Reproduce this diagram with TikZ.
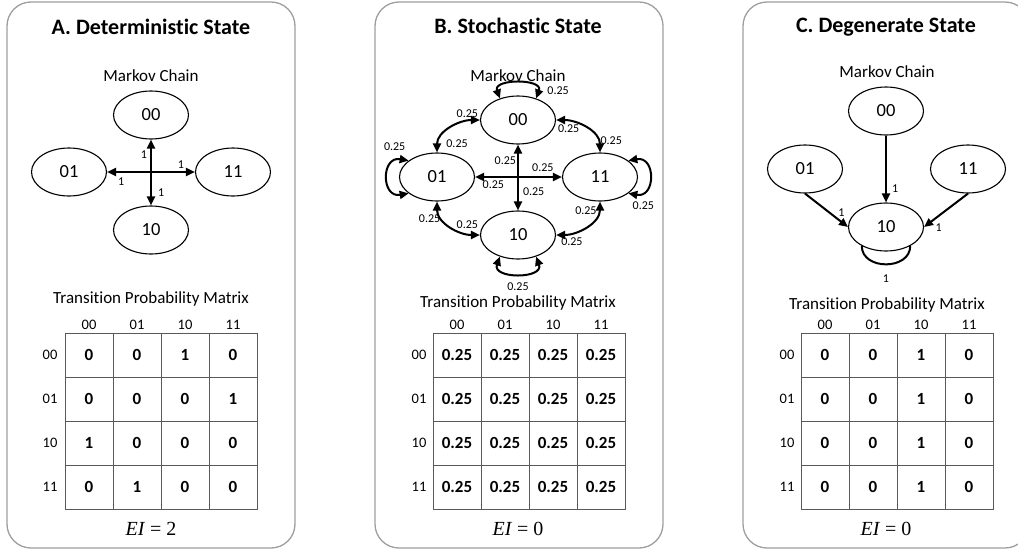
\documentclass[tikz,border=0pt]{standalone}
\usepackage{fontspec}
\setmainfont{Carlito}[Ligatures=NoCommon]
\newfontfamily\eqfont{Liberation Serif}
\usetikzlibrary{shapes.geometric,arrows.meta}

\tikzset{
  panel/.style={draw=black!38, line width=1.3pt, rounded corners=24pt},
  title/.style={font=\bfseries\fontsize{22}{24}\selectfont},
  sub/.style={font=\fontsize{17}{19}\selectfont, inner sep=0pt},
  state/.style={ellipse, draw, line width=1.1pt, minimum width=75pt, minimum height=48pt, inner sep=0pt, font=\fontsize{18.5}{20}\selectfont},
  lbl/.style={font=\fontsize{12}{12}\selectfont, inner sep=1pt},
  arr/.style={line width=2pt, -{Triangle[length=9pt,width=8pt]}},
  dbl/.style={line width=2pt, {Triangle[length=9pt,width=8pt]}-{Triangle[length=9pt,width=8pt]}},
  hdr/.style={font=\fontsize{14.5}{16}\selectfont, inner sep=0pt},
  cell/.style={draw=black!65, line width=0.9pt, minimum width=48pt, minimum height=44pt, inner sep=0pt, font=\bfseries\fontsize{17}{19}\selectfont},
  eq/.style={font=\eqfont\fontsize{20}{22}\selectfont},
}

\begin{document}
\begin{tikzpicture}[x=1pt,y=1pt]
\useasboundingbox (0,0) rectangle (1018,-552);
\clip (0,0) rectangle (1018,-552);

% A. deterministic
\draw[panel] (7,-2) rectangle (295,-548);
\node[title] (atitle) at (151,-27) {A. Deterministic State};
\node[sub] (amc) at (151,-76) {Markov Chain};
\node[state] (a00) at (151,-115) {00};
\node[state] (a01) at (69,-172) {01};
\node[state] (a11) at (233,-172) {11};
\node[state] (a10) at (151,-230) {10};
\draw[dbl] (a00) -- node[lbl,pos=0.23,left=2pt]{1} node[lbl,pos=0.81,right=5pt]{1} (a10);
\draw[dbl] (a01) -- node[lbl,pos=0.84,above=2pt]{1} node[lbl,pos=0.16,below=4pt]{1} (a11);
\node[sub] (atpm) at (151,-298.5) {Transition Probability Matrix};
\foreach \h [count=\j from 0] in {00,01,10,11} {
  \node[hdr] (ac\j) at (89+48*\j,-325) {\h};
  \node[hdr] (ar\j) at (50,-355-44*\j) {\h};
}
\foreach \row [count=\i from 0] in {{0,0,1,0},{0,0,0,1},{1,0,0,0},{0,1,0,0}} {
  \foreach \v [count=\j from 0] in \row {
    \node[cell] (am\i\j) at (89+48*\j,-355-44*\i) {\v};
  }
}
\node[eq] (aei) at (151,-529) {\textit{EI} = 2};

% B. stochastic
\draw[panel] (375,-2) rectangle (663,-548);
\node[title] (btitle) at (518,-26) {B. Stochastic State};
\node[sub] (bmc) at (518,-76) {Markov Chain};
\node[state] (b00) at (518,-120) {00};
\node[state] (b01) at (437,-177) {01};
\node[state] (b11) at (600,-177) {11};
\node[state] (b10) at (518,-235) {10};
\draw[dbl] (b00) -- node[lbl,pos=0.25,left]{0.25} node[lbl,pos=0.72,right=3pt]{0.25} (b10);
\draw[dbl] (b01) -- node[lbl,pos=0.78,above=3pt]{0.25} node[lbl,pos=0.21,below=2pt]{0.25} (b11);
\draw[dbl] (b00.west) to[out=180,in=90] node[lbl,pos=0,above left]{0.25} node[lbl,pos=0.85,right=6pt]{0.25} (b01.north);
\draw[dbl] (b00.east) to[out=0,in=90] node[lbl,pos=0,below right,yshift=-3pt]{0.25} node[lbl,pos=0.85,right,yshift=3pt]{0.25} (b11.north);
\draw[dbl] (b01.south) to[out=-90,in=180] node[lbl,pos=0.3,left]{0.25} node[lbl,pos=0.8,above=3pt]{0.25} (b10.west);
\draw[dbl] (b11.south) to[out=-90,in=0] node[lbl,pos=0.15,left]{0.25} node[lbl,pos=0.8,below=2pt,xshift=3pt]{0.25} (b10.east);
\draw[dbl] (b00.130) to[out=110,in=70,looseness=1.5] node[lbl,pos=0.8,right=11pt,yshift=-2pt]{0.25} (b00.50);
\draw[dbl] (b01.150) to[out=170,in=190,looseness=2.2] node[lbl,pos=0,above=8pt,xshift=-14pt]{0.25} (b01.210);
\draw[dbl] (b11.30) to[out=10,in=-10,looseness=2.2] node[lbl,pos=1,below=6pt,xshift=15pt]{0.25} (b11.-30);
\draw[dbl] (b10.230) to[out=-110,in=-70,looseness=1.7] node[lbl,pos=0.5,below=7pt]{0.25} (b10.310);
\node[sub] (btpm) at (518,-302.5) {Transition Probability Matrix};
\foreach \h [count=\j from 0] in {00,01,10,11} {
  \node[hdr] (bc\j) at (457+48*\j,-325) {\h};
  \node[hdr] (br\j) at (419,-355-44*\j) {\h};
}
\foreach \i in {0,...,3} {
  \foreach \j in {0,...,3} {
    \node[cell] (bm\i\j) at (457+48*\j,-355-44*\i) {0.25};
  }
}
\node[eq] (bei) at (518,-529) {\textit{EI} = 0};

% C. degenerate
\draw[panel] (743,-2) rectangle (1029,-548);
\node[title] (ctitle) at (886,-27) {C. Degenerate State};
\node[sub] (cmc) at (887,-72) {Markov Chain};
\node[state] (c00) at (886,-111) {00};
\node[state] (c01) at (805,-169) {01};
\node[state] (c11) at (968,-169) {11};
\node[state] (c10) at (886,-227) {10};
\draw[arr] (c00) -- node[lbl,pos=0.8,right=4pt]{1} (c10);
\draw[arr] (c01.south) -- node[lbl,pos=0.85,above=3pt]{1} (c10.west);
\draw[arr] (c11.south) -- node[lbl,pos=0.85,below right,xshift=3pt]{1} (c10.east);
\draw[line width=2pt] (c10.218) to[out=-90,in=-90,looseness=1.3] node[lbl,pos=0.5,below=8pt]{1} (c10.322);
\node[sub] (ctpm) at (887,-304.5) {Transition Probability Matrix};
\foreach \h [count=\j from 0] in {00,01,10,11} {
  \node[hdr] (cc\j) at (825+48*\j,-325) {\h};
  \node[hdr] (cr\j) at (787,-355-44*\j) {\h};
}
\foreach \row [count=\i from 0] in {{0,0,1,0},{0,0,1,0},{0,0,1,0},{0,0,1,0}} {
  \foreach \v [count=\j from 0] in \row {
    \node[cell] (cm\i\j) at (825+48*\j,-355-44*\i) {\v};
  }
}
\node[eq] (cei) at (886,-529) {\textit{EI} = 0};
\end{tikzpicture}
\end{document}
